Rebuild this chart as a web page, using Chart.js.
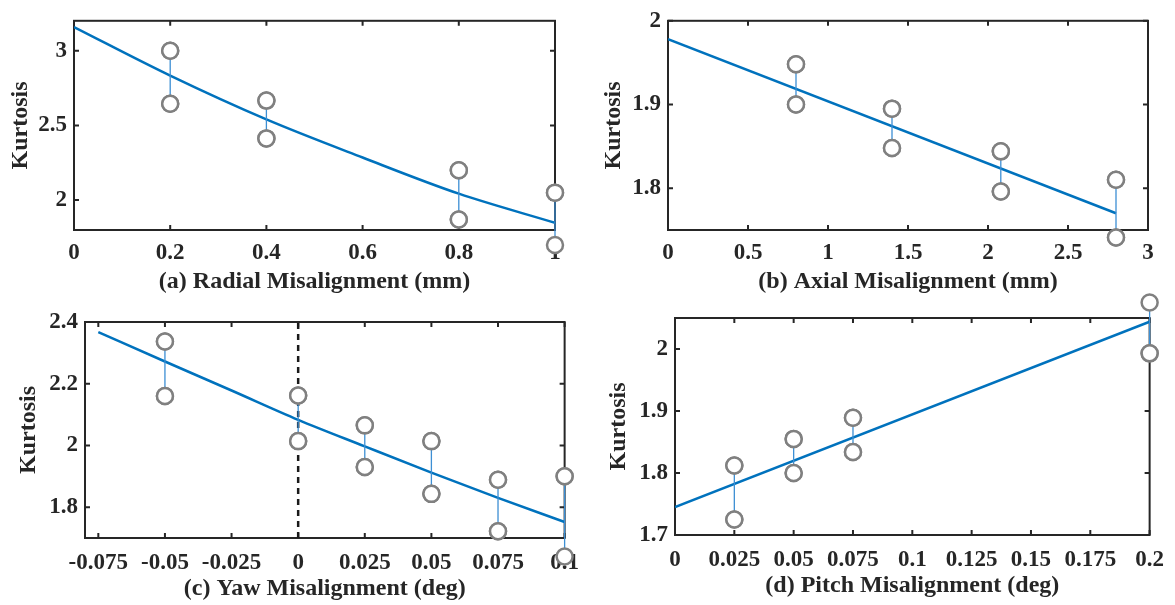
<!DOCTYPE html>
<html>
<head>
<meta charset="utf-8">
<script src="https://cdn.jsdelivr.net/npm/chart.js@4.4.1/dist/chart.umd.min.js"></script>
<style>
  body { margin: 0; background: #fff; }
  #wrap { position: relative; width: 1175px; height: 605px; }
  #wrap canvas { position: absolute; }
</style>
</head>
<body>
<div id="wrap">
  <canvas id="radial" width="590" height="300" style="left:0;top:0"></canvas>
  <canvas id="axial" width="585" height="300" style="left:590px;top:0"></canvas>
  <canvas id="yaw" width="590" height="305" style="left:0;top:300px"></canvas>
  <canvas id="pitch" width="585" height="315" style="left:590px;top:290px"></canvas>
</div>
<script>
// (a) radial misalignment
const radialX = [0.2, 0.4, 0.8, 1.0];
const radialHigh = [3.0, 2.666, 2.2, 2.05];
const radialLow = [2.645, 2.413, 1.87, 1.7];
const radialFitX = [0, 0.2, 0.4, 0.6, 0.8, 1.0];
const radialFitY = [3.158, 2.833, 2.54, 2.285, 2.043, 1.848];
const radialXTicks = [0, 0.2, 0.4, 0.6, 0.8, 1];
const radialYTicks = [2, 2.5, 3];

// (b) axial misalignment
const axialX = [0.8, 1.4, 2.08, 2.8];
const axialHigh = [1.948, 1.895, 1.844, 1.81];
const axialLow = [1.9, 1.848, 1.796, 1.741];
const axialFitX = [0, 2.8];
const axialFitY = [1.978, 1.77];
const axialXTicks = [0, 0.5, 1, 1.5, 2, 2.5, 3];
const axialYTicks = [1.8, 1.9, 2];

// (c) yaw misalignment
const yawX = [-0.05, 0, 0.025, 0.05, 0.075, 0.1];
const yawHigh = [2.337, 2.162, 2.065, 2.014, 1.889, 1.9];
const yawLow = [2.16, 2.014, 1.93, 1.843, 1.722, 1.64];
const yawFitX = [-0.075, -0.05, -0.025, 0, 0.025, 0.05, 0.075, 0.1];
const yawFitY = [2.367, 2.272, 2.178, 2.083, 1.997, 1.912, 1.83, 1.752];
const yawXTicks = [-0.075, -0.05, -0.025, 0, 0.025, 0.05, 0.075, 0.1];
const yawYTicks = [1.8, 2, 2.2, 2.4];

// (d) pitch misalignment
const pitchX = [0.025, 0.05, 0.075, 0.2];
const pitchHigh = [1.812, 1.855, 1.889, 2.075];
const pitchLow = [1.725, 1.8, 1.834, 1.993];
const pitchFitX = [0, 0.2];
const pitchFitY = [1.745, 2.044];
const pitchXTicks = [0, 0.025, 0.05, 0.075, 0.1, 0.125, 0.15, 0.175, 0.2];
const pitchYTicks = [1.7, 1.8, 1.9, 2];

const INK = '#262626';
const FIT_BLUE = '#0072BD';
const SERIF = '"Liberation Serif", "Times New Roman", serif';

const fmt = v => String(+Number(v).toFixed(3));

// box around the plot area with inward ticks on all four sides
const framePlugin = {
  id: 'frame',
  beforeDatasetsDraw(chart) {
    const { ctx, chartArea: a, scales: { x, y } } = chart;
    ctx.save();
    ctx.strokeStyle = INK;
    ctx.lineWidth = 2;
    ctx.beginPath();
    x.ticks.forEach(t => {
      const px = x.getPixelForValue(t.value);
      ctx.moveTo(px, a.bottom); ctx.lineTo(px, a.bottom - 5);
      ctx.moveTo(px, a.top); ctx.lineTo(px, a.top + 5);
    });
    y.ticks.forEach(t => {
      const py = y.getPixelForValue(t.value);
      ctx.moveTo(a.left, py); ctx.lineTo(a.left + 5, py);
      ctx.moveTo(a.right, py); ctx.lineTo(a.right - 5, py);
    });
    ctx.stroke();
    ctx.strokeRect(a.left, a.top, a.right - a.left, a.bottom - a.top);
    ctx.restore();
  }
};

// point elements skip themselves when they sit outside the chart area;
// draw the circle markers again against the whole canvas so they overhang the box
const overhangPlugin = {
  id: 'overhang',
  afterDatasetsDraw(chart) {
    const whole = { left: 0, top: 0, right: chart.width, bottom: chart.height };
    chart.getDatasetMeta(0).data.forEach(pt => pt.draw(chart.ctx, whole));
  }
};

function makePanel(id, p) {
  const circles = [];
  const bars = [];
  p.xs.forEach((x, i) => {
    circles.push({ x, y: p.high[i] }, { x, y: p.low[i] });
    bars.push({ x, y: p.high[i] }, { x, y: p.low[i] }, { x, y: null });
  });
  const fit = p.fitX.map((x, i) => ({ x, y: p.fitY[i] }));

  const datasets = [
    {
      data: circles, order: 0, clip: false,
      pointRadius: 8, pointBorderWidth: 2.5,
      pointBorderColor: '#808080', pointBackgroundColor: '#ffffff'
    },
    {
      data: bars, order: 1, clip: false, showLine: true, spanGaps: false,
      borderColor: '#3d8fd4', borderWidth: 1.3, pointRadius: 0
    },
    {
      data: fit, order: 2, showLine: true, cubicInterpolationMode: 'monotone',
      borderColor: FIT_BLUE, borderWidth: 2.5, pointRadius: 0
    }
  ];
  if (p.zeroLine) {
    datasets.push({
      data: [{ x: 0, y: p.yMin }, { x: 0, y: p.yMax }], order: 3, showLine: true,
      borderColor: '#1a1a1a', borderWidth: 2.5, borderDash: [6, 5], pointRadius: 0
    });
  }

  new Chart(document.getElementById(id), {
    type: 'scatter',
    data: { datasets },
    options: {
      responsive: false,
      animation: false,
      events: [],
      layout: { padding: { left: 0, top: p.padTop, right: p.padRight, bottom: 0 } },
      plugins: { legend: { display: false }, tooltip: { enabled: false } },
      scales: {
        x: {
          type: 'linear', min: p.xMin, max: p.xMax,
          grid: { display: false, drawTicks: false },
          border: { display: false },
          afterBuildTicks: s => { s.ticks = p.xTicks.map(v => ({ value: v })); },
          afterFit: s => { s.height = p.xHeight; },
          ticks: {
            autoSkip: false, maxRotation: 0, padding: p.xTickPad, color: INK,
            font: { family: SERIF, size: 23, weight: 'bold' },
            callback: v => fmt(v)
          },
          title: {
            display: true, text: p.xTitle, color: INK,
            font: { family: SERIF, size: 24, weight: 'bold' },
            padding: { top: 0, bottom: p.xTitlePad }
          }
        },
        y: {
          type: 'linear', min: p.yMin, max: p.yMax,
          grid: { display: false, drawTicks: false },
          border: { display: false },
          afterBuildTicks: s => { s.ticks = p.yTicks.map(v => ({ value: v })); },
          afterFit: s => { s.width = p.yWidth; },
          ticks: {
            autoSkip: false, padding: 7, color: INK,
            font: { family: SERIF, size: 23, weight: 'bold' },
            callback: v => fmt(v)
          },
          title: {
            display: true, text: 'Kurtosis', color: INK,
            font: { family: SERIF, size: 24, weight: 'bold' },
            padding: { top: p.yTitlePad, bottom: 0 }
          }
        }
      }
    },
    plugins: [framePlugin, overhangPlugin]
  });
}

makePanel('radial', {
  xs: radialX, high: radialHigh, low: radialLow, fitX: radialFitX, fitY: radialFitY,
  xTicks: radialXTicks, yTicks: radialYTicks,
  xMin: 0, xMax: 1, yMin: 1.8, yMax: 3.2,
  xTitle: '(a) Radial Misalignment (mm)',
  padTop: 13, padRight: 35, yWidth: 74, xHeight: 70,
  xTickPad: 9, xTitlePad: 4, yTitlePad: 6
});

makePanel('axial', {
  xs: axialX, high: axialHigh, low: axialLow, fitX: axialFitX, fitY: axialFitY,
  xTicks: axialXTicks, yTicks: axialYTicks,
  xMin: 0, xMax: 3, yMin: 1.75, yMax: 2,
  xTitle: '(b) Axial Misalignment (mm)',
  padTop: 13, padRight: 27, yWidth: 78, xHeight: 70,
  xTickPad: 9, xTitlePad: 4, yTitlePad: 9
});

makePanel('yaw', {
  xs: yawX, high: yawHigh, low: yawLow, fitX: yawFitX, fitY: yawFitY,
  xTicks: yawXTicks, yTicks: yawYTicks,
  xMin: -0.08, xMax: 0.1, yMin: 1.7, yMax: 2.4,
  xTitle: '(c) Yaw Misalignment (deg)', zeroLine: true,
  padTop: 22, padRight: 25, yWidth: 85, xHeight: 67,
  xTickPad: 11, xTitlePad: 2, yTitlePad: 14
});

makePanel('pitch', {
  xs: pitchX, high: pitchHigh, low: pitchLow, fitX: pitchFitX, fitY: pitchFitY,
  xTicks: pitchXTicks, yTicks: pitchYTicks,
  xMin: 0, xMax: 0.2, yMin: 1.7, yMax: 2.05,
  xTitle: '(d) Pitch Misalignment (deg)',
  padTop: 28, padRight: 21, yWidth: 85, xHeight: 70,
  xTickPad: 11, xTitlePad: 5, yTitlePad: 14
});
</script>
</body>
</html>
